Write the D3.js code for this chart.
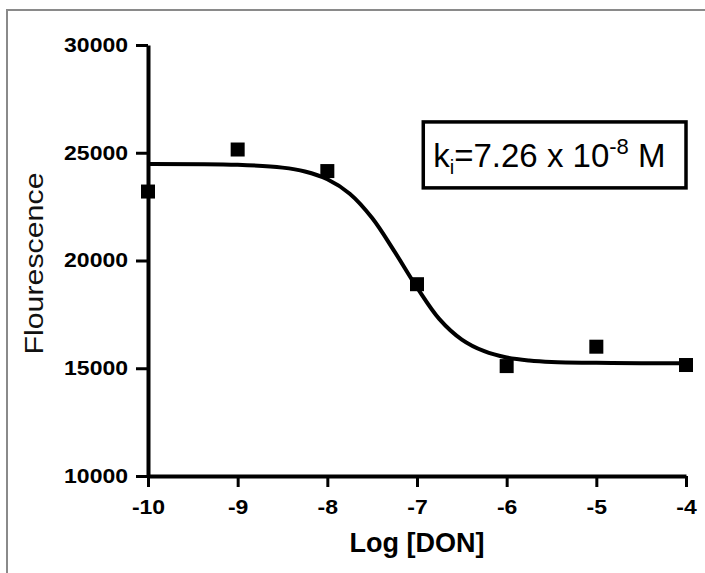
<!DOCTYPE html>
<html>
<head>
<meta charset="utf-8">
<script src="https://cdnjs.cloudflare.com/ajax/libs/d3/7.8.5/d3.min.js"></script>
<style>
  html, body { margin: 0; padding: 0; background: #fff; }
  svg { display: block; }
</style>
</head>
<body>
<script>
// ---- data ----
const logDose = [-10, -9, -8, -7, -6, -5, -4];
const fluor   = [23200, 25150, 24150, 18900, 15100, 16000, 15150];

// fitted curve
const curveX = [-10, -9, -8.5, -8.25, -8, -7.75, -7.5, -7.25, -7, -6.75, -6.5, -6.25, -6, -5.75, -5.5, -5, -4.5, -4];
const curveY = [24480, 24440, 24310, 24130, 23770, 23100, 21970, 20410, 18750, 17280, 16330, 15790, 15500, 15360, 15290, 15250, 15235, 15230];

const xTicks = [-10, -9, -8, -7, -6, -5, -4];
const yTicks = [10000, 15000, 20000, 25000, 30000];
const xTitle = "Log [DON]";
const yTitle = "Flourescence";

// ---- layout ----
const W = 705, H = 573;
const svg = d3.select("body").append("svg").attr("width", W).attr("height", H);
svg.append("rect").attr("width", W).attr("height", H).attr("fill", "#fff");
// outer frame (open on right/bottom)
svg.append("rect").attr("x", 7).attr("y", 10).attr("width", W + 10).attr("height", H + 10)
  .attr("fill", "none").attr("stroke", "#8a8a8a").attr("stroke-width", 2);

const x = d3.scaleLinear().domain([-10, -4]).range([148, 686]);
const y = d3.scaleLinear().domain([10000, 30000]).range([476, 45]);

const FONT = "'Liberation Sans', Arial, Helvetica, sans-serif";
const SX = 1.15;
const fmt = d => String(d);

// y axis
const gy = svg.append("g").attr("transform", `translate(${x(-10)},0)`)
  .call(d3.axisLeft(y).tickValues(yTicks).tickSize(12).tickSizeOuter(0).tickPadding(8).tickFormat(fmt));
gy.select(".domain").attr("stroke", "#000").attr("stroke-width", 4);
gy.selectAll(".tick line").attr("stroke", "#000").attr("stroke-width", 3);
gy.selectAll(".tick text")
  .attr("font-family", FONT).attr("font-weight", "bold").attr("font-size", 20).attr("fill", "#000")
  .attr("x", -20 / SX).attr("transform", `scale(${SX},1)`);

// x axis
const gx = svg.append("g").attr("transform", `translate(0,${y(10000)})`)
  .call(d3.axisBottom(x).tickValues(xTicks).tickSize(11).tickSizeOuter(0).tickPadding(13).tickFormat(fmt));
gx.select(".domain").attr("stroke", "#000").attr("stroke-width", 4);
gx.selectAll(".tick line").attr("stroke", "#000").attr("stroke-width", 3);
gx.selectAll(".tick text")
  .attr("font-family", FONT).attr("font-weight", "bold").attr("font-size", 20).attr("fill", "#000")
  .attr("transform", `scale(${SX},1)`);

// axis titles
svg.append("text").attr("x", (x(-10) + x(-4)) / 2).attr("y", 552)
  .attr("text-anchor", "middle").attr("font-family", FONT).attr("font-weight", "bold")
  .attr("font-size", 27).attr("fill", "#000").text(xTitle);
svg.append("text").attr("transform", `translate(43,${(y(10000) + y(30000)) / 2 + 3}) rotate(-90)`)
  .attr("text-anchor", "middle").attr("font-family", FONT)
  .attr("font-size", 25).attr("fill", "#111")
  .attr("textLength", 182).attr("lengthAdjust", "spacingAndGlyphs").text(yTitle);

// curve
const line = d3.line().x((d, i) => x(curveX[i])).y(d => y(d)).curve(d3.curveCatmullRom.alpha(0.5));
svg.append("path").datum(curveY).attr("d", line)
  .attr("fill", "none").attr("stroke", "#000").attr("stroke-width", 4).attr("stroke-linejoin", "round");

// points
const S = 14;
svg.selectAll("rect.pt").data(fluor).enter().append("rect").attr("class", "pt")
  .attr("x", (d, i) => x(logDose[i]) - S / 2).attr("y", d => y(d) - S / 2)
  .attr("width", S).attr("height", S).attr("fill", "#000");

// annotation box
const bx0 = x(-6.93), bx1 = x(-4), by0 = y(26430), by1 = y(23370);
svg.append("rect").attr("x", bx0).attr("y", by0).attr("width", bx1 - bx0).attr("height", by1 - by0)
  .attr("fill", "#fff").attr("stroke", "#000").attr("stroke-width", 3.5);
const t = svg.append("text").attr("x", bx0 + 10).attr("y", 167)
  .attr("font-family", FONT).attr("font-size", 33).attr("fill", "#000");
t.append("tspan").text("k");
t.append("tspan").attr("font-size", 20).attr("dy", 7).text("i");
t.append("tspan").attr("dy", -7).text("=7.26 x 10");
t.append("tspan").attr("font-size", 22).attr("dy", -13).text("-8");
t.append("tspan").attr("dy", 13).text(" M");
</script>
</body>
</html>
